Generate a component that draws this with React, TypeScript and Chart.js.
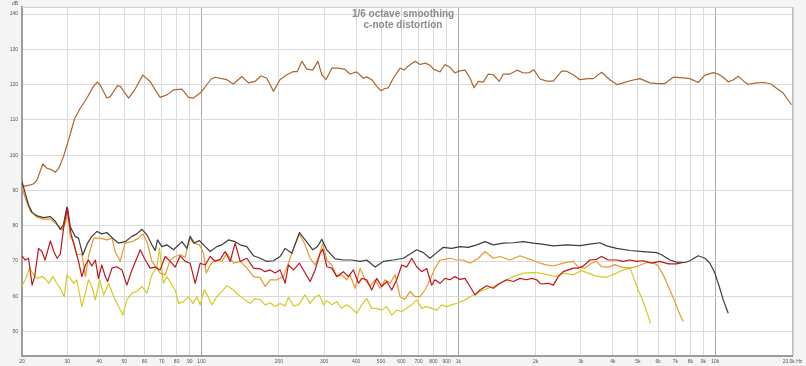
import React, { useEffect, useRef } from "react";
import { Chart, registerables } from "chart.js";

Chart.register(...registerables);

const titleLines = ["1/6 octave smoothing", "c-note distortion"];
const yUnit = "dB";

const xTicks = [20, 30, 40, 50, 60, 70, 80, 90, 100, 200, 300, 400, 500, 600, 700, 800, 900, 1000, 2000, 3000, 4000, 5000, 6000, 7000, 8000, 9000, 10000, 20000];
const xTickLabels = ["20", "30", "40", "50", "60", "70", "80", "90", "100", "200", "300", "400", "500", "600", "700", "800", "900", "1k", "2k", "3k", "4k", "5k", "6k", "7k", "8k", "9k", "10k", "20.0k Hz"];
const yTicks = [50, 60, 70, 80, 90, 100, 110, 120, 130, 140];

// Fundamental (brown)
const fundFreq = [20, 21.6, 22.2, 22.9, 24.1, 25, 25.8, 27, 27.8, 29, 30.4, 32, 33.7, 35.8, 37.8, 39.2, 40.3, 42.8, 44.1, 47.1, 48.3, 52, 54.9, 59.1, 63.1, 66, 69, 73.3, 77.8, 83.9, 89, 93, 98.8, 103.4, 109, 113, 125.5, 133, 143.6, 152.3, 161.7, 170.2, 179.6, 190.6, 202, 215, 228, 236, 246, 257, 271, 284, 294, 305, 322, 341, 362, 379, 402, 427, 440, 460, 481, 499, 518, 534, 558, 593, 615, 639, 678, 709, 742, 776, 799, 849, 887, 928, 970, 1009, 1062, 1111, 1150, 1196, 1250, 1308, 1368, 1443, 1496, 1588, 1695, 1790, 1888, 1969, 2079, 2208, 2342, 2524, 2641, 2801, 2974, 3204, 3350, 3612, 3891, 4155, 4386, 4657, 5092, 5570, 5998, 6371, 6862, 7505, 7971, 8587, 9118, 9822, 10270, 10740, 11230, 11750, 12290, 13050, 13440, 14490, 15610, 16570, 17330, 18390, 19820];
const fundDb = [91.1, 91.6, 91.9, 93, 97.5, 96.3, 96, 95.2, 96.3, 99.6, 104.4, 110.2, 113.3, 116.2, 119.3, 120.7, 119.9, 116.2, 116.6, 119.7, 119.5, 116.2, 118.5, 122.7, 120.9, 118.5, 116.4, 117.1, 118.5, 118.7, 116.4, 116.2, 117.6, 119.4, 121.6, 122.1, 121.4, 120.2, 122.3, 120.5, 120.9, 122.5, 121.8, 118.1, 121.4, 122.8, 123.7, 123.7, 126.6, 124.4, 124.1, 126.6, 122.8, 121.4, 124.7, 124.7, 124.3, 123, 123.6, 121.8, 122.2, 121.4, 119.5, 118.3, 118.9, 119.1, 121.8, 124.7, 124.1, 125.3, 126.6, 125.7, 126.1, 125.5, 124.4, 123.6, 125.7, 124.9, 123.3, 123.9, 124.1, 121.8, 119.1, 120.9, 120.7, 123, 122.8, 120.9, 123, 123, 124.1, 123.3, 123.4, 124.2, 121.6, 121, 121, 123.8, 123.8, 122.8, 121.4, 121.7, 121.7, 123.5, 121.4, 120, 120.5, 121.1, 121.7, 120.5, 120.3, 120.3, 122.1, 121.9, 121.7, 120.6, 122.7, 123.4, 123, 122.1, 120.8, 121.3, 122.4, 120.7, 120.1, 120.5, 120.6, 120.1, 119, 117.6, 114.3];

// THD (dark grey)
const thdFreq = [20, 20.6, 21.2, 21.9, 22.9, 24.3, 25.8, 27, 28.2, 29, 29.9, 30.8, 32.2, 33.2, 34.5, 36, 37.4, 39.2, 40.9, 42.8, 45.5, 47.5, 50.4, 53.6, 56, 58.6, 61.3, 64.1, 66, 67.4, 70.1, 73.3, 77.8, 83.9, 87.7, 90.3, 93.6, 98.2, 103.4, 108.1, 114.7, 120, 127.4, 135.2, 141.4, 150.1, 159.4, 169.2, 179.6, 190.6, 202.3, 211.6, 224.7, 240.7, 253.2, 271.2, 282.8, 294, 307.5, 331.3, 356.9, 384.5, 414.4, 439.9, 474, 510.6, 558.5, 611, 648.5, 688.4, 730.8, 775.6, 823.1, 873.8, 941.4, 1015, 1093, 1179, 1270, 1368, 1497, 1637, 1790, 1958, 2078, 2342, 2640, 2974, 3302, 3558, 3777, 4133, 4657, 5247, 5911, 6181, 6664, 7073, 7622, 7970, 8589, 9119, 9535, 9972, 10370, 10750, 11240];
const thdDb = [92.5, 89.2, 85.9, 83.8, 82.8, 82.3, 82.6, 81.2, 79, 80.3, 85.3, 79.8, 77, 76.5, 71.7, 75.1, 77, 78.4, 77.7, 78.1, 76.2, 75.1, 75.5, 77, 77.7, 79, 77.4, 74.6, 73, 76, 74.1, 74.6, 73.2, 75.5, 73.6, 77, 75.1, 75.8, 74.1, 72.7, 74.1, 74.6, 76, 75.5, 74.6, 74.1, 71.5, 70.8, 69.9, 70.1, 71.3, 73.6, 72.2, 78.1, 76, 73.2, 74.1, 76.2, 73.2, 70.6, 70.3, 70.3, 69.9, 70.3, 68.3, 69.9, 70.3, 70.8, 72, 73.2, 72.4, 70.8, 72.4, 73.9, 73.6, 74.1, 73.9, 74.6, 75.5, 74.6, 75.1, 75.2, 75.5, 75.1, 74.9, 74.3, 74.6, 74.4, 74.9, 75.2, 74.3, 73.6, 73, 72.7, 72.4, 71.8, 70.3, 69.7, 69.6, 70.1, 71.5, 70.8, 69.4, 66.6, 62.8, 59, 55.2];

// 2nd harmonic (red)
const h2Freq = [20, 20.6, 21.2, 21.9, 22.4, 23.2, 23.9, 24.6, 25.8, 26.6, 27.4, 28.2, 29.2, 30.1, 31, 32, 33.2, 34.2, 35.3, 36.3, 37.4, 38.6, 39.7, 40.9, 42.2, 43.1, 44.8, 46.8, 49, 51.2, 53.6, 56, 57.7, 60.4, 63.1, 66, 69, 72.2, 75.5, 79, 82.6, 86.4, 90.3, 94.5, 98.8, 103.4, 108.1, 113, 118.2, 123.6, 129.3, 135.2, 141.4, 150.1, 159.4, 169.2, 176.9, 185, 193.4, 202.3, 211.6, 218, 228.1, 240.7, 253.2, 264.8, 276.9, 289.6, 296.6, 307.5, 321.6, 336.3, 356.9, 373.2, 390.3, 408.2, 420.6, 439.9, 460, 481.1, 503.1, 526.2, 550.4, 575.5, 601.9, 629.4, 658.2, 688.4, 719.9, 752.8, 787.3, 810.9, 848.1, 886.8, 927.4, 970, 1015, 1061, 1110, 1161, 1214, 1289, 1368, 1452, 1542, 1637, 1738, 1844, 1929, 2017, 2078, 2110, 2240, 2342, 2450, 2562, 2679, 2801, 2930, 3064, 3253, 3453, 3612, 3834, 4133, 4386, 4657, 4943, 5247, 5653, 6090, 6565, 7073, 7508];
const h2Db = [71.5, 70.3, 70.8, 63.2, 65.6, 73.6, 72.7, 70.3, 75.7, 72.7, 70.8, 72, 80.7, 85, 77.9, 74.1, 69.9, 65.6, 68.9, 70.3, 68.6, 70.3, 65.1, 68.9, 65.6, 64.2, 68, 68.4, 67.5, 63.2, 67.5, 70.8, 73.2, 70.3, 68, 68.3, 67.5, 71.3, 69.9, 68.3, 71.5, 69.9, 69.4, 63.7, 69.4, 68.9, 71.3, 69.9, 70.5, 72.7, 69.9, 75.1, 69.9, 70.8, 68, 67.8, 67, 67.5, 66.6, 67.5, 63.7, 68.9, 67.5, 69.4, 66.6, 64.2, 67.5, 72.2, 73.4, 68.4, 68, 65.6, 67, 65.6, 67.5, 63.7, 65.1, 64.7, 61.8, 65.1, 62.8, 64.2, 61.8, 64.7, 68.9, 68.3, 70.8, 68.4, 67, 67.9, 63.2, 64.7, 63.7, 65.1, 64.7, 65.6, 64.8, 65.1, 62.8, 60.4, 61.8, 63, 62.3, 63.7, 64.7, 64.2, 65.1, 64.7, 65.1, 64.7, 63.7, 63.5, 63.7, 63.2, 65.6, 67, 67.5, 68, 68, 68.6, 70.3, 70.5, 71.3, 70.3, 70.3, 69.9, 70.3, 69.9, 70.1, 69.4, 69.9, 69.2, 69.2, 69.6];

// 3rd harmonic (orange)
const h3Freq = [20, 20.6, 21.6, 22.9, 24.3, 25.8, 27.4, 28.6, 29.5, 30.1, 30.8, 31.8, 32.7, 34.2, 35.3, 36.3, 38, 40.3, 42.8, 44.8, 46.1, 48.2, 50.4, 53.6, 56.9, 59.1, 61.3, 64.1, 67, 69, 72.2, 75.5, 79, 82.6, 86.4, 89.8, 93.1, 98.2, 101.8, 104.3, 108.1, 113, 120, 125.5, 133.2, 141.4, 150.1, 159.4, 169.2, 176.9, 185, 196.4, 208.4, 218, 228.1, 240.7, 253.2, 264.8, 276.9, 287.9, 296.6, 307.5, 321.6, 336.3, 351.6, 367.7, 378.8, 396.2, 414.4, 433.4, 453.2, 474, 495.8, 518.4, 542.1, 567, 593, 620, 648.5, 678.1, 709.2, 741.6, 775.6, 810.9, 848.1, 886.8, 927.4, 984.6, 1045, 1110, 1196, 1270, 1368, 1452, 1589, 1738, 1900, 2047, 2174, 2342, 2562, 2801, 2930, 3109, 3302, 3453, 3612, 3834, 4071, 4322, 4657, 5017, 5406, 5738, 6000, 6276, 6664, 6968, 7244, 7508];
const h3Db = [91.1, 87.8, 84, 82.4, 81.9, 81.9, 80.3, 78.8, 80.7, 83.6, 77, 75.5, 71.8, 72, 65.6, 71.3, 76.5, 76.5, 76, 76.5, 72.7, 69.9, 75.1, 75.5, 76.5, 77.7, 75.5, 69.9, 68, 66.6, 66.1, 70.3, 71.3, 71.8, 71.1, 76.5, 75.1, 74.6, 72.2, 66.6, 68.9, 70.3, 69.9, 72.2, 69.4, 69.9, 68, 65.6, 65.3, 62.8, 64.7, 64.7, 65.6, 69.4, 73.6, 77.7, 74.6, 70.8, 68.9, 71.8, 75.1, 70.3, 68.9, 65.6, 66.1, 64.7, 66.1, 62.3, 68, 64.7, 62.8, 64.7, 62.3, 64.7, 63.7, 66.1, 59.9, 59.2, 61.4, 59.9, 59.9, 61.8, 64.7, 68, 70.3, 70.5, 70.8, 70.3, 70.3, 69.4, 70.8, 72.7, 70.8, 71.3, 70.3, 71.5, 70.5, 69.6, 69, 68.6, 69.4, 69.9, 68.3, 68, 69.4, 69.9, 68.4, 68.3, 69, 68.3, 68, 68.6, 69.6, 69.6, 68.6, 66.1, 61.8, 58.5, 55.2, 52.9];

// 4th harmonic (yellow)
const h4Freq = [20, 20.6, 21.4, 22.2, 22.9, 23.9, 24.6, 25.4, 26.4, 27.4, 28.2, 29.2, 29.9, 30.8, 31.8, 32.7, 34.2, 35.3, 36.3, 37.4, 38.6, 40.1, 41.6, 43.5, 45.5, 47.5, 49.4, 51.2, 53.6, 56, 58.6, 61.3, 64.1, 67, 68.6, 71.1, 73.3, 76, 79, 81.4, 85.1, 89, 92.5, 95.9, 98.8, 102.4, 105.5, 109.7, 114.7, 120, 125.5, 133.2, 139.3, 147.9, 154.7, 161.7, 169.2, 176.9, 185, 193.4, 202.3, 211.6, 218, 228.1, 238.5, 253.2, 264.8, 276.9, 287.9, 298.4, 307.5, 321.6, 336.3, 351.6, 367.7, 384.5, 402.2, 420.6, 439.9, 460, 481.1, 503.1, 526.2, 550.4, 575.5, 601.9, 629.4, 658.2, 688.4, 719.9, 752.8, 787.3, 823.1, 860.9, 900.1, 941.4, 999.5, 1061, 1144, 1251, 1368, 1497, 1637, 1790, 1958, 2078, 2240, 2378, 2562, 2801, 3018, 3204, 3402, 3777, 4133, 4386, 4657, 4797, 5017, 5247, 5406, 5603];
const h4Db = [63, 64.7, 68, 66.1, 65.1, 65.6, 65.1, 63.7, 65.6, 63.5, 62.3, 59.9, 66.1, 65.1, 63.7, 64.7, 57.1, 60.9, 64.7, 62.8, 59, 64.7, 60.4, 63.7, 59.9, 57.1, 54.7, 59, 60.9, 61.4, 62.8, 60.9, 66.1, 68.4, 73.6, 63.7, 65.6, 63.7, 61.8, 58, 58.5, 59.9, 58, 59.9, 57.6, 61.8, 60.4, 57.6, 59.9, 61.4, 63, 61.8, 60.4, 59, 58, 59.4, 59, 57.6, 58.2, 57.1, 58, 57.3, 59.7, 57.3, 57.6, 60.4, 58, 59.9, 60.4, 57.6, 58.8, 57.6, 58.5, 56.6, 57.6, 56.6, 55.2, 57.6, 59.4, 56.6, 56.6, 56.1, 57.1, 54.7, 56.1, 55.7, 56.6, 57.6, 59, 56.6, 57.1, 56.6, 56.1, 57.6, 57.1, 57.6, 58.2, 59, 60.4, 61.8, 62.8, 64.2, 65.6, 66.6, 66.7, 66.6, 66.1, 65.6, 66.6, 66.1, 67.3, 66.6, 65.8, 65.4, 66.6, 67.5, 68, 65.6, 61.8, 58.5, 55.7, 52.4];

const FONT = "'Liberation Sans', Arial, sans-serif";

function pts(f: number[], d: number[]) {
  const n = Math.min(f.length, d.length);
  const out: { x: number; y: number }[] = [];
  for (let i = 0; i < n; i++) out.push({ x: f[i], y: d[i] });
  return out;
}

const framePlugin = {
  id: "frame",
  beforeDraw(chart: any) {
    const { ctx, chartArea: a, width, height } = chart;
    ctx.save();
    ctx.fillStyle = "#f4f4f4";
    ctx.fillRect(0, 0, width, height);
    ctx.fillStyle = "#ffffff";
    ctx.fillRect(a.left, a.top, a.right - a.left, a.bottom - a.top);
    ctx.restore();
  },
  afterDraw(chart: any) {
    const { ctx, chartArea: a } = chart;
    ctx.save();
    ctx.strokeStyle = "#cfcfcf";
    ctx.lineWidth = 1;
    ctx.beginPath();
    ctx.moveTo(a.left, a.top + 0.5);
    ctx.lineTo(a.right, a.top + 0.5);
    ctx.stroke();
    ctx.strokeStyle = "#a8a8a8";
    ctx.beginPath();
    ctx.moveTo(a.right + 0.5, a.top);
    ctx.lineTo(a.right + 0.5, a.bottom);
    ctx.stroke();
    ctx.fillStyle = "#8a8a8a";
    ctx.font = `bold 10px ${FONT}`;
    ctx.textAlign = "center";
    ctx.textBaseline = "middle";
    const cx = chart.width / 2;
    titleLines.forEach((t, i) => ctx.fillText(t, cx, 14 + i * 11));
    ctx.fillStyle = "#555555";
    ctx.font = `5px ${FONT}`;
    ctx.textAlign = "right";
    ctx.fillText(yUnit, a.left - 4, a.top - 3);
    ctx.restore();
  },
};

export default function App() {
  const ref = useRef<HTMLCanvasElement>(null);
  useEffect(() => {
    const canvas = ref.current;
    if (!canvas) return;
    const lw = 1.2;
    const chart = new Chart(canvas, {
      type: "line",
      data: {
        datasets: [
          { label: "H2", data: pts(h2Freq, h2Db), borderColor: "#c0141c", borderWidth: lw },
          { label: "THD", data: pts(thdFreq, thdDb), borderColor: "#3c3c3c", borderWidth: lw },
          { label: "H3", data: pts(h3Freq, h3Db), borderColor: "#e8992a", borderWidth: lw },
          { label: "H4", data: pts(h4Freq, h4Db), borderColor: "#d4cb26", borderWidth: lw },
          { label: "Fundamental", data: pts(fundFreq, fundDb), borderColor: "#ad6430", borderWidth: lw },
        ] as any,
      },
      options: {
        responsive: false,
        animation: false,
        layout: { padding: { top: 7, right: 13.5, left: 0, bottom: 0 } },
        plugins: {
          legend: { display: false },
          tooltip: { enabled: false },
          title: { display: false },
        },
        elements: {
          point: { radius: 0 },
          line: { tension: 0, borderJoinStyle: "round" },
        },
        scales: {
          x: {
            type: "logarithmic",
            min: 20,
            max: 20000,
            afterBuildTicks: (s: any) => {
              s.ticks = xTicks.map((v) => ({ value: v }));
            },
            afterFit: (s: any) => {
              s.height = 10;
            },
            ticks: {
              autoSkip: false,
              maxRotation: 0,
              minRotation: 0,
              padding: 3,
              color: "#555555",
              font: { size: 5, family: FONT },
              callback: (_v: any, i: number) => xTickLabels[i],
            },
            grid: {
              drawTicks: false,
              lineWidth: 1,
              color: (c: any) => {
                const v = c.tick ? c.tick.value : 0;
                return v === 100 || v === 1000 || v === 10000 ? "#a8a8a8" : "#dadada";
              },
            },
            border: { color: "#9c9c9c", width: 2 },
          },
          y: {
            type: "linear",
            min: 43.1,
            max: 142,
            afterBuildTicks: (s: any) => {
              s.ticks = yTicks.map((v) => ({ value: v }));
            },
            afterFit: (s: any) => {
              s.width = 22;
            },
            ticks: {
              padding: 4,
              color: "#555555",
              font: { size: 5, family: FONT },
              callback: (v: any) => String(v),
            },
            grid: { drawTicks: false, lineWidth: 1, color: "#dadada" },
            border: { color: "#9c9c9c", width: 2 },
          },
        },
      } as any,
      plugins: [framePlugin],
    });
    return () => chart.destroy();
  }, []);

  return (
    <div style={{ position: "fixed", left: 0, top: 0, width: 806, height: 366 }}>
      <canvas ref={ref} width={806} height={366} style={{ display: "block", width: 806, height: 366 }} />
    </div>
  );
}
